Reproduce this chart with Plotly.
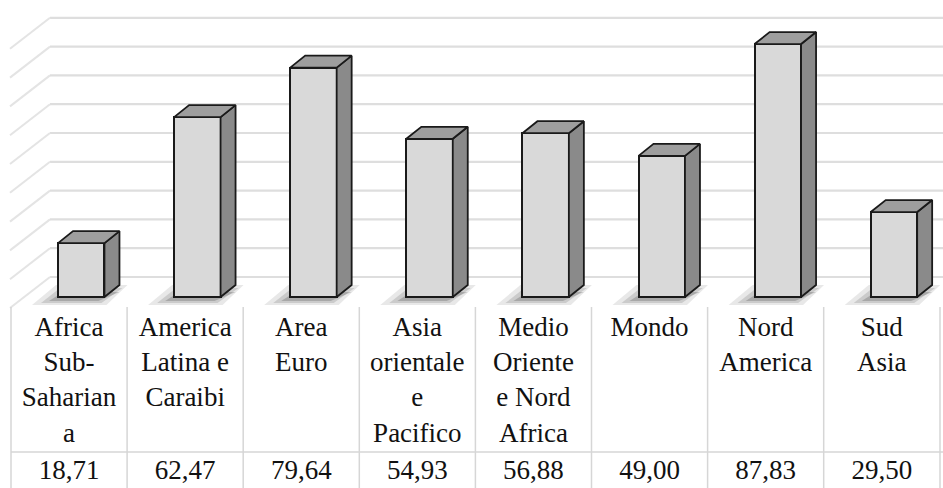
import plotly.graph_objects as go

# Data
categories = [
    "Africa<br>Sub-<br>Saharian<br>a",
    "America<br>Latina e<br>Caraibi",
    "Area<br>Euro",
    "Asia<br>orientale<br>e<br>Pacifico",
    "Medio<br>Oriente<br>e Nord<br>Africa",
    "Mondo",
    "Nord<br>America",
    "Sud<br>Asia",
]
values = [18.71, 62.47, 79.64, 54.93, 56.88, 49.00, 87.83, 29.50]
wall_ticks = [0, 10, 20, 30, 40, 50, 60, 70, 80, 90]

# Canvas geometry (pixels)
W, H = 943, 488
X_LEFT = 11.0          # left edge of the first category column
COL_W = 116.1          # column width in px
Y_ZERO = 297.0         # baseline of the front faces
PX_PER_UNIT = 2.88     # vertical px per value unit
SERIF = "Liberation Serif"

def px_x(dpx):
    return dpx / COL_W

def px_y(dpx):
    return dpx / PX_PER_UNIT

x_range = [-0.5 - X_LEFT / COL_W, -0.5 + (W - X_LEFT) / COL_W]
y_range = [-(H - Y_ZERO) / PX_PER_UNIT, Y_ZERO / PX_PER_UNIT]

# 3D oblique offsets
bar_dx, bar_dy = px_x(15), px_y(12)          # bar depth
wall_dy = px_y(20)                           # back wall relative to bar fronts
floor_dy = px_y(-10)                         # front edge of the floor
side_dx, side_dy = px_x(40), px_y(31)        # left side wall depth
bar_w, bar_off = 0.40, -0.095

idx = list(range(len(values)))
shapes = []

# back wall gridlines and side wall diagonals
wall_left = -0.5 + px_x(39)
for t in wall_ticks:
    yy = t + wall_dy
    shapes.append(dict(type="line", xref="x", yref="y", layer="below",
                       x0=wall_left, x1=x_range[1], y0=yy, y1=yy,
                       line=dict(color="#dedede", width=2.2)))
    shapes.append(dict(type="line", xref="x", yref="y", layer="below",
                       x0=wall_left, x1=wall_left - side_dx, y0=yy, y1=yy - side_dy,
                       line=dict(color="#e4e4e4", width=2)))

# soft floor shadows under each bar (layered for a blurred edge)
shadow_layers = [
    # (top y px, top-left dx, top-right dx, bottom y px, bottom-left dx, bottom-right dx, opacity)
    (12, -2, 8, -8, -26, 2, 0.10),
    (9, 2, 3, -6, -17, -3, 0.14),
    (5, 5, 0, -4, -9, -6, 0.20),
]
for i in idx:
    xl = i + bar_off
    xr = xl + bar_w
    for ty_, tl, tr, by_, bl, br, op in shadow_layers:
        path = (f"M {xl + px_x(tl)},{px_y(ty_)} L {xr + bar_dx + px_x(tr)},{px_y(ty_)} "
                f"L {xr + px_x(br)},{px_y(by_)} L {xl + px_x(bl)},{px_y(by_)} Z")
        shapes.append(dict(type="path", xref="x", yref="y", layer="below", path=path,
                           fillcolor=f"rgba(30,30,30,{op})", line=dict(width=0)))

# data table grid
table_top = floor_dy
row_split = -(452 - Y_ZERO) / PX_PER_UNIT
for i in range(len(values) + 1):
    xx = i - 0.5 if i < len(values) else -0.5 + (940 - X_LEFT) / COL_W
    shapes.append(dict(type="line", xref="x", yref="y", layer="below",
                       x0=xx, x1=xx, y0=table_top, y1=y_range[0],
                       line=dict(color="#d6d6d6", width=1.5)))
shapes.append(dict(type="line", xref="x", yref="y", layer="below",
                   x0=-0.5, x1=x_range[1], y0=row_split, y1=row_split,
                   line=dict(color="#d6d6d6", width=1.5)))

fig = go.Figure()

# side faces
sx, sy = [], []
for i, v in zip(idx, values):
    xr = i + bar_off + bar_w
    sx += [xr, xr + bar_dx, xr + bar_dx, xr, xr, None]
    sy += [0, bar_dy, v + bar_dy, v, 0, None]
fig.add_trace(go.Scatter(x=sx, y=sy, mode="lines", fill="toself",
                         fillcolor="#8a8a8a", line=dict(color="#1a1a1a", width=1.8),
                         hoverinfo="skip", showlegend=False))

# top faces
tx, ty = [], []
for i, v in zip(idx, values):
    xl = i + bar_off
    xr = xl + bar_w
    tx += [xl, xr, xr + bar_dx, xl + bar_dx, xl, None]
    ty += [v, v, v + bar_dy, v + bar_dy, v, None]
fig.add_trace(go.Scatter(x=tx, y=ty, mode="lines", fill="toself",
                         fillcolor="#9e9e9e", line=dict(color="#1a1a1a", width=1.8),
                         hoverinfo="skip", showlegend=False))

# front faces
fig.add_trace(go.Bar(x=idx, y=values, width=bar_w, offset=bar_off,
                     marker=dict(color="#d9d9d9", line=dict(color="#1a1a1a", width=2)),
                     hoverinfo="skip", showlegend=False))

# table text: category labels and values as text traces
label_y = -(316 - Y_ZERO) / PX_PER_UNIT
value_y = -(472 - Y_ZERO) / PX_PER_UNIT
fig.add_trace(go.Scatter(x=idx, y=[label_y] * len(idx), mode="text",
                         text=categories, textposition="bottom center",
                         textfont=dict(family=SERIF, size=27, color="#111111"),
                         hoverinfo="skip", showlegend=False, cliponaxis=False))
fig.add_trace(go.Scatter(x=idx, y=[value_y] * len(idx), mode="text",
                         text=[f"{v:.2f}".replace(".", ",") for v in values],
                         textposition="middle center",
                         textfont=dict(family=SERIF, size=27, color="#111111"),
                         hoverinfo="skip", showlegend=False, cliponaxis=False))

fig.update_layout(
    width=W, height=H,
    margin=dict(l=0, r=0, t=0, b=0),
    paper_bgcolor="white", plot_bgcolor="white",
    font=dict(family=SERIF, color="#111111"),
    xaxis=dict(range=x_range, visible=False, fixedrange=True),
    yaxis=dict(range=y_range, visible=False, fixedrange=True),
    shapes=shapes,
    bargap=0,
)

fig.write_html("out.html")
